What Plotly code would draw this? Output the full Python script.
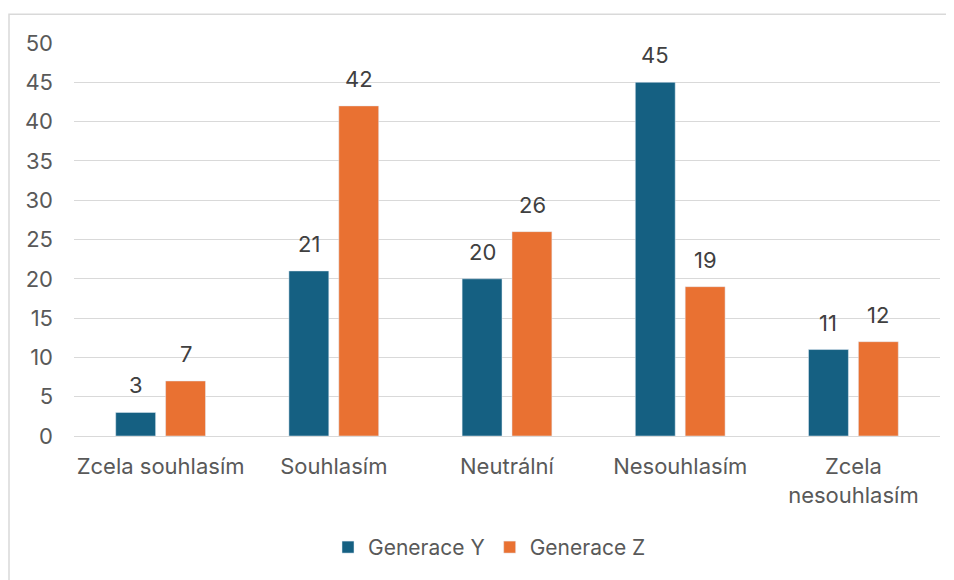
import plotly.graph_objects as go

categories = ["Zcela souhlasím", "Souhlasím", "Neutrální", "Nesouhlasím", "Zcela<br>nesouhlasím"]
gen_y = [3, 21, 20, 45, 11]
gen_z = [7, 42, 26, 19, 12]
y_ticks = [0, 5, 10, 15, 20, 25, 30, 35, 40, 45, 50]

FONT = "Inter"
FS = 22
BLUE, ORANGE = "#156082", "#E97132"

fig = go.Figure()
fig.add_trace(go.Bar(name="Generace Y", x=categories, y=gen_y, marker_color=BLUE))
fig.add_trace(go.Bar(name="Generace Z", x=categories, y=gen_z, marker_color=ORANGE))

# data labels above bars (bars are 40px wide with a 10px gap -> centres at +/-25px)
annotations = []
for shift, vals in ((-25, gen_y), (25, gen_z)):
    for c, v in zip(categories, vals):
        annotations.append(dict(x=c, y=v, xref="x", yref="y", text=str(v), showarrow=False,
                                xshift=shift, yshift=12, yanchor="bottom", xanchor="center",
                                font=dict(size=FS, color="#404040", family=FONT)))

W, H = 946, 572  # page body has an 8px margin
L, R, T, B = 66, 14, 35, 142
pw, ph = W - L - R, H - T - B

fig.update_layout(
    width=W, height=H,
    margin=dict(l=L, r=R, t=T, b=B, pad=0),
    paper_bgcolor="white", plot_bgcolor="white",
    barmode="group", bargap=0.424, bargroupgap=0.2,
    font=dict(family=FONT, size=FS, color="#595959"),
    showlegend=True,
    legend=dict(orientation="h", x=0.5 - 17.5 / pw, xanchor="center", y=(T + ph - 542) / ph,
                yanchor="middle", font=dict(size=21, color="#595959"), traceorder="normal"),
    xaxis=dict(showgrid=False, showline=True, linecolor="#d9d9d9", linewidth=1,
               ticks="", ticklabelstandoff=11, tickfont=dict(size=FS, color="#595959")),
    yaxis=dict(range=[0, 50], tickvals=y_ticks, showgrid=True, gridcolor="#d9d9d9",
               gridwidth=1, zeroline=False, showline=False, ticks="",
               ticklabelstandoff=20, tickfont=dict(size=FS, color="#595959")),
    annotations=annotations,
    shapes=[dict(type="rect", xref="paper", yref="paper",
                 x0=(1 - L) / pw, x1=(960 - L) / pw,
                 y0=(T + ph - 600) / ph, y1=(T + ph - 6) / ph,
                 line=dict(color="#d9d9d9", width=1.5), fillcolor="rgba(0,0,0,0)", layer="below")],
)
fig.write_html("out.html")
